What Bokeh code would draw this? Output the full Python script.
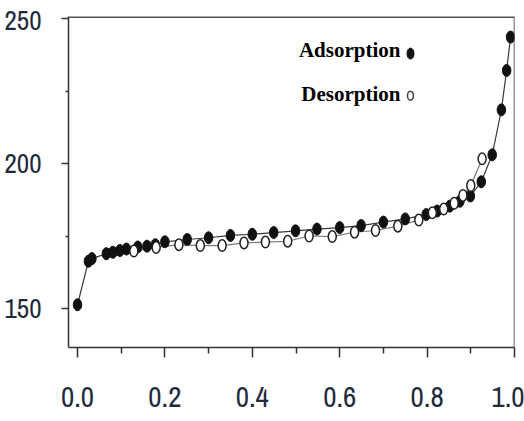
from bokeh.plotting import figure
from bokeh.models import Range1d, FixedTicker, Span, Label, Spacer
from bokeh.layouts import column
from bokeh.embed import file_html
from bokeh.resources import INLINE

# ---- data ----
ads_x = [0.0, 0.025, 0.033, 0.066, 0.081, 0.097, 0.112, 0.138, 0.159, 0.178, 0.200,
         0.251, 0.300, 0.350, 0.400, 0.449, 0.499, 0.548, 0.600, 0.649, 0.700, 0.750,
         0.798, 0.823, 0.852, 0.875, 0.899, 0.924, 0.949, 0.970, 0.982, 0.991]
ads_y = [151.3, 166.3, 167.2, 168.9, 169.4, 170.0, 170.5, 171.2, 171.5, 172.0, 173.0,
         173.8, 174.4, 175.2, 175.6, 176.2, 176.8, 177.4, 177.9, 178.6, 179.8, 180.9,
         182.4, 183.6, 185.3, 187.0, 188.8, 193.7, 203.0, 218.5, 232.1, 243.6]

des_x = [0.129, 0.180, 0.232, 0.281, 0.331, 0.381, 0.430, 0.481, 0.530, 0.583, 0.634,
         0.682, 0.733, 0.781, 0.812, 0.838, 0.862, 0.882, 0.900, 0.926]
des_y = [169.8, 171.0, 172.0, 171.7, 171.7, 172.6, 172.9, 173.2, 175.0, 174.8, 176.3,
         176.9, 178.4, 180.5, 183.0, 184.3, 186.3, 189.0, 192.4, 201.6]

x_ticks = [0.0, 0.2, 0.4, 0.6, 0.8, 1.0]
x_tick_labels = ["0.0", "0.2", "0.4", "0.6", "0.8", "1.0"]
x_minor = [0.1, 0.3, 0.5, 0.7, 0.9]
y_ticks = [150, 200, 250]
y_tick_labels = ["150", "200", "250"]
y_minor = [175, 225]

series_names = ["Adsorption", "Desorption"]

# ---- figure ----
Y_TOP = 250.7
p = figure(width=524, height=411, output_backend="svg", toolbar_location=None,
           x_range=Range1d(-0.0206, 1.0), y_range=Range1d(136.55, Y_TOP),
           min_border_left=68, min_border_right=10, min_border_top=6, min_border_bottom=74)
p.xgrid.visible = False
p.ygrid.visible = False
p.outline_line_color = None
p.background_fill_color = "white"
p.border_fill_color = "white"

AX_COL = "#333333"
LBL_COL = "#1e2a3c"
TICK_FONT = "Archivo Narrow"

xa = p.xaxis[0]
xa.ticker = FixedTicker(ticks=x_ticks, minor_ticks=x_minor)
xa.major_label_overrides = dict(zip(x_ticks, x_tick_labels))
xa.major_tick_out = 10
xa.major_tick_in = 0
xa.minor_tick_out = 6
xa.minor_tick_in = 0
xa.major_label_standoff = 29
xa.major_label_text_font_size = "29px"

ya = p.yaxis[0]
ya.ticker = FixedTicker(ticks=y_ticks, minor_ticks=y_minor)
ya.major_label_overrides = dict(zip(y_ticks, y_tick_labels))
ya.major_tick_out = 7
ya.major_tick_in = 0
ya.minor_tick_out = 3
ya.minor_tick_in = 0
ya.major_label_standoff = 20
ya.major_label_text_font_size = "27px"

for ax in (xa, ya):
    ax.axis_line_color = AX_COL
    ax.axis_line_width = 1.5
    ax.major_tick_line_color = AX_COL
    ax.major_tick_line_width = 1.5
    ax.minor_tick_line_color = AX_COL
    ax.minor_tick_line_width = 1.5
    ax.major_label_text_font = TICK_FONT
    ax.major_label_text_color = LBL_COL

# frame: thick top line and right line
p.add_layout(Span(location=Y_TOP, dimension="width", line_color="#555555", line_width=3))
p.add_layout(Span(location=1.0, dimension="height", line_color=AX_COL, line_width=1.5))

# curves
p.line(des_x, des_y, line_color="#777777", line_width=1.2)
p.line(ads_x, ads_y, line_color="#3a3a3a", line_width=1.2)
p.ellipse(ads_x, ads_y, width=8.5, height=12, width_units="screen", height_units="screen",
          fill_color="#111111", line_color="#111111", line_width=1)
p.ellipse(des_x, des_y, width=8, height=11.5, width_units="screen", height_units="screen",
          fill_color="white", line_color="#222222", line_width=1.5)

# legend (text on the left, marker on the right)
LEG_TXT_X = 0.739
LEG_MRK_X = 0.762
leg_txt_y = [239.0, 224.1]
leg_mrk_y = [237.9, 223.4]
for name, ty in zip(series_names, leg_txt_y):
    p.add_layout(Label(x=LEG_TXT_X, y=ty, text=name, text_align="right",
                       text_baseline="alphabetic", text_font="Liberation Serif",
                       text_font_style="bold", text_font_size="21px", text_color="black"))
p.ellipse([LEG_MRK_X], [leg_mrk_y[0]], width=7, height=11, width_units="screen",
          height_units="screen", fill_color="#111111", line_color="#111111")
p.ellipse([LEG_MRK_X], [leg_mrk_y[1]], width=6, height=9, width_units="screen",
          height_units="screen", fill_color="white", line_color="#444444", line_width=1.5)

layout = column(Spacer(width=524, height=10), p, spacing=0)
open("out.html", "w").write(file_html(layout, INLINE))
